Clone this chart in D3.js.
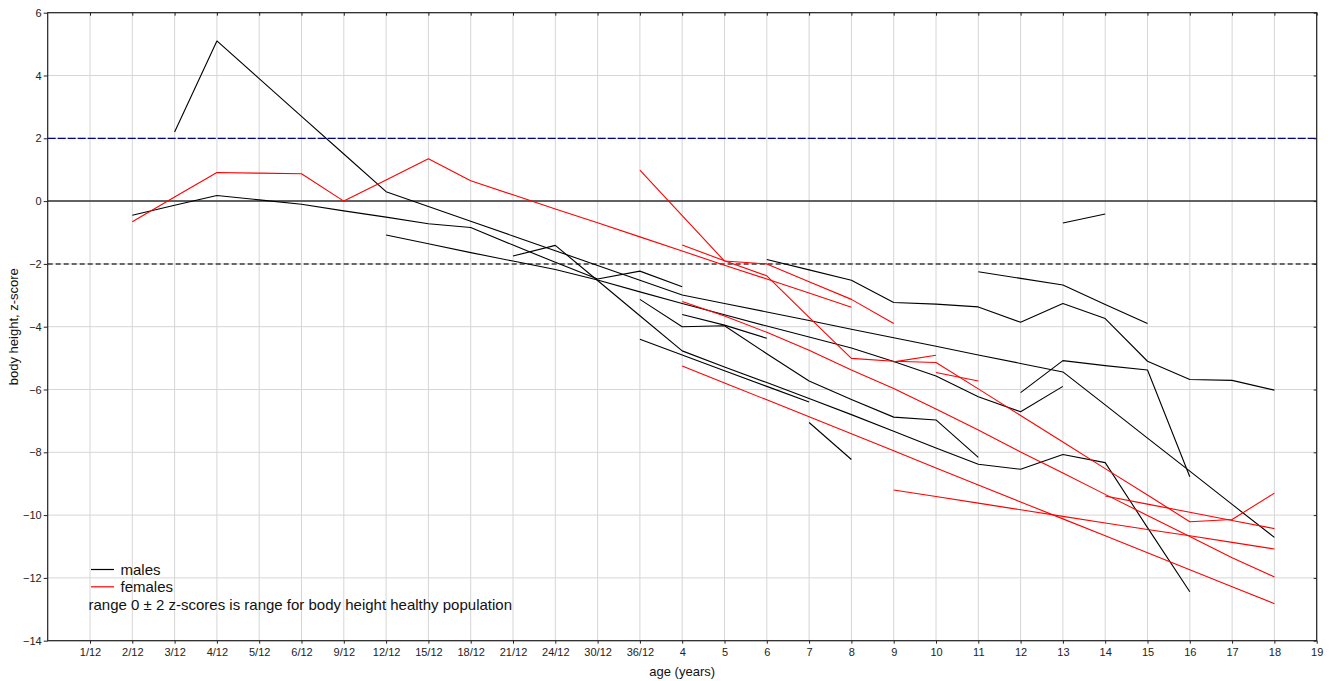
<!DOCTYPE html>
<html>
<head>
<meta charset="utf-8">
<script src="https://cdn.jsdelivr.net/npm/d3@7"></script>
<style>
  html, body { margin: 0; padding: 0; background: #fff; }
  svg { display: block; font-family: "Liberation Sans", Arial, sans-serif; }
</style>
</head>
<body>
<svg id="chart" width="1337" height="681"></svg>
<script>
// Age categories on the x axis (months as n/12, then years)
const ageLabels = ["1/12","2/12","3/12","4/12","5/12","6/12","9/12","12/12","15/12","18/12",
  "21/12","24/12","30/12","36/12","4","5","6","7","8","9","10","11","12","13","14","15","16","17","18","19"];
const zTicks = [6, 4, 2, 0, -2, -4, -6, -8, -10, -12, -14];
const referenceLevels = [2, 0, -2];

// Male patients: [age, z-score]
const m01 = [["3/12",2.2],["4/12",5.1],["5/12",3.9],["6/12",2.7],["9/12",1.5],["12/12",0.3],["15/12",-0.17],
  ["18/12",-0.64],["21/12",-1.11],["24/12",-1.58],["30/12",-2.05],["36/12",-2.52],["4",-2.99],["5",-3.26],
  ["6",-3.53],["7",-3.8],["8",-4.08],["9",-4.35],["10",-4.62],["11",-4.9],["12",-5.17],["13",-5.44],
  ["14",-6.49],["15",-7.55],["16",-8.6],["17",-9.66],["18",-10.71]];
const m02 = [["2/12",-0.45],["3/12",-0.13],["4/12",0.18],["5/12",0.04],["6/12",-0.1],["9/12",-0.31],
  ["12/12",-0.51],["15/12",-0.72],["18/12",-0.84],["21/12",-1.4],["24/12",-1.95],["30/12",-2.48],
  ["36/12",-2.23],["4",-2.73]];
const m03 = [["12/12",-1.08],["15/12",-1.36],["18/12",-1.64],["21/12",-1.91],["24/12",-2.18],["30/12",-2.51],
  ["36/12",-2.89],["4",-3.26],["5",-3.62],["6",-3.98],["7",-4.33],["8",-4.68],["9",-5.11],["10",-5.57],
  ["11",-6.23],["12",-6.71],["13",-5.9]];
const m04 = [["21/12",-1.75],["24/12",-1.41],["30/12",-2.53],["36/12",-3.65],["4",-4.77],["5",-5.28],
  ["6",-5.78],["7",-6.29],["8",-6.8],["9",-7.33],["10",-7.86],["11",-8.38],["12",-8.54],["13",-8.07],
  ["14",-8.33],["15",-10.4],["16",-12.44]];
const m05 = [["36/12",-3.13],["4",-4.0],["5",-3.97],["6",-4.86],["7",-5.73],["8",-6.32],["9",-6.88],
  ["10",-6.97],["11",-8.16]];
const m06 = [["4",-3.61],["5",-3.95],["6",-4.37]];
const m07 = [["12",-6.1],["13",-5.08],["14",-5.24],["15",-5.38],["16",-8.78]];
const m08 = [["36/12",-4.4],["4",-4.9],["5",-5.4],["6",-5.9],["7",-6.4]];
const m09 = [["7",-7.05],["8",-8.23]];
const m10 = [["13",-0.7],["14",-0.41]];
const m11 = [["11",-2.25],["12",-2.46],["13",-2.67],["14",-3.29],["15",-3.9]];
const m12 = [["6",-1.86],["7",-2.19],["8",-2.52],["9",-3.23],["10",-3.28],["11",-3.37],["12",-3.86],
  ["13",-3.26],["14",-3.74],["15",-5.1],["16",-5.68],["17",-5.71],["18",-6.02]];

// Female patients: [age, z-score]
const f01 = [["2/12",-0.66],["3/12",0.13],["4/12",0.91],["5/12",0.89],["6/12",0.87],["9/12",0.0],
  ["12/12",0.67],["15/12",1.35],["18/12",0.65],["21/12",0.2],["24/12",-0.25],["30/12",-0.69],
  ["36/12",-1.14],["4",-1.59],["5",-2.04],["6",-2.48],["7",-2.93],["8",-3.38]];
const f02 = [["36/12",0.99],["4",-0.46],["5",-1.91],["6",-2.0],["7",-2.57],["8",-3.13],["9",-3.9]];
const f03 = [["4",-1.4],["5",-1.9],["6",-2.38],["7",-3.7],["8",-5.01],["9",-5.1],["10",-5.14],["11",-5.98],
  ["12",-6.83],["13",-7.67],["14",-8.52],["15",-9.36],["16",-10.21],["17",-10.14],["18",-9.3]];
const f04 = [["4",-3.2],["5",-3.66],["6",-4.18],["7",-4.75],["8",-5.38],["9",-5.97],["10",-6.62],
  ["11",-7.29],["12",-7.99],["13",-8.66],["14",-9.34],["15",-10.01],["16",-10.68],["17",-11.36],["18",-11.97]];
const f05 = [["4",-5.25],["5",-5.79],["6",-6.33],["7",-6.87],["8",-7.41],["9",-7.95],["10",-8.5],
  ["11",-9.04],["12",-9.58],["13",-10.12],["14",-10.66],["15",-11.2],["16",-11.74],["17",-12.28],["18",-12.82]];
const f06 = [["9",-9.2],["10",-9.41],["11",-9.62],["12",-9.83],["13",-10.04],["14",-10.25],["15",-10.46],
  ["16",-10.66],["17",-10.87],["18",-11.08]];
const f07 = [["14",-9.39],["15",-9.65],["16",-9.91],["17",-10.17],["18",-10.43]];
const f08 = [["9",-5.12],["10",-4.91]];
const f09 = [["10",-5.46],["11",-5.73]];

const maleSeries = [m01, m02, m03, m04, m05, m06, m07, m08, m09, m10, m11, m12];
const femaleSeries = [f01, f02, f03, f04, f05, f06, f07, f08, f09];

const svg = d3.select("#chart");
const W = 1337, H = 681;
const margin = { top: 12.7, right: 20.3, bottom: 40.3, left: 47.7 };
const x0 = margin.left, x1 = W - margin.right, y0 = margin.top, y1 = H - margin.bottom;

// an empty slot at the left edge precedes the first age category
const x = d3.scalePoint().domain([""].concat(ageLabels)).range([x0, x1]).padding(0);
const y = d3.scaleLinear().domain([-14, 6]).range([y1, y0]);

// grid
const grid = svg.append("g").attr("stroke", "#d6d6d6").attr("stroke-width", 1);
grid.selectAll("line.gx").data(ageLabels).join("line")
  .attr("x1", d => x(d)).attr("x2", d => x(d)).attr("y1", y0).attr("y2", y1);
grid.selectAll("line.gy").data(zTicks).join("line")
  .attr("x1", x0).attr("x2", x1).attr("y1", d => y(d)).attr("y2", d => y(d));

// healthy-range reference levels
const refStyle = {
  "2": { color: "#00008b", width: 1.2, dash: "8,2" },
  "0": { color: "#333333", width: 1.5, dash: null },
  "-2": { color: "#666666", width: 2, dash: "5,3" }
};
svg.append("g").selectAll("line").data(referenceLevels).join("line")
  .attr("x1", x0).attr("x2", x1)
  .attr("y1", d => y(d)).attr("y2", d => y(d))
  .attr("stroke", d => refStyle[d].color)
  .attr("stroke-width", d => refStyle[d].width)
  .attr("stroke-dasharray", d => refStyle[d].dash);

// patient curves
const line = d3.line().x(d => x(d[0])).y(d => y(d[1]));
const plot = svg.append("g").attr("fill", "none").attr("stroke-linejoin", "round");
plot.selectAll("path.m").data(maleSeries).join("path")
  .attr("d", line).attr("stroke", "#000").attr("stroke-width", 1.1);
plot.selectAll("path.f").data(femaleSeries).join("path")
  .attr("d", line).attr("stroke", "#ff0000").attr("stroke-width", 1.1);

// axes
const tickFont = g => g.selectAll("text").attr("font-size", 11).attr("fill", "#222")
  .attr("font-family", "\"Liberation Sans\", Arial, sans-serif");

const xAxis = svg.append("g").attr("transform", `translate(0,${y1})`)
  .call(d3.axisBottom(x).tickValues(ageLabels).tickSize(3).tickPadding(5));
xAxis.select(".domain").remove();
xAxis.selectAll("line").attr("stroke", "#222");
tickFont(xAxis);

const yAxis = svg.append("g").attr("transform", `translate(${x0},0)`)
  .call(d3.axisLeft(y).tickValues(zTicks).tickSize(4).tickPadding(2));
yAxis.select(".domain").remove();
yAxis.selectAll("line").attr("stroke", "#222");
tickFont(yAxis);

// inner ticks on the top and right frame edges
const topTicks = svg.append("g").attr("transform", `translate(0,${y0})`)
  .call(d3.axisBottom(x).tickValues(ageLabels).tickSize(3).tickFormat(""));
topTicks.select(".domain").remove();
topTicks.selectAll("line").attr("stroke", "#222");
const rightTicks = svg.append("g").attr("transform", `translate(${x1},0)`)
  .call(d3.axisLeft(y).tickValues(zTicks).tickSize(3).tickFormat(""));
rightTicks.select(".domain").remove();
rightTicks.selectAll("line").attr("stroke", "#222");

// frame
svg.append("rect").attr("x", x0).attr("y", y0).attr("width", x1 - x0).attr("height", y1 - y0)
  .attr("fill", "none").attr("stroke", "#222").attr("stroke-width", 1.2);

// axis titles
svg.append("text").attr("x", (x0 + x1) / 2).attr("y", 676).attr("text-anchor", "middle")
  .attr("font-size", 13).attr("fill", "#111").text("age (years)");
svg.append("text").attr("transform", `translate(18,${(y0 + y1) / 2}) rotate(-90)`)
  .attr("text-anchor", "middle").attr("font-size", 13).attr("fill", "#111")
  .text("body height, z-score");

// legend
const legend = svg.append("g").attr("font-size", 15).attr("fill", "#111");
const legendItems = [["males", "#000"], ["females", "#ff0000"]];
legendItems.forEach((item, i) => {
  const ly = 569.5 + i * 17.3;
  legend.append("line").attr("x1", 91).attr("x2", 114).attr("y1", ly).attr("y2", ly)
    .attr("stroke", item[1]).attr("stroke-width", 1.2);
  legend.append("text").attr("x", 120.5).attr("y", ly).attr("dy", "0.35em").text(item[0]);
});
legend.append("text").attr("x", 88.5).attr("y", 604.3).attr("dy", "0.35em")
  .text("range 0 \u00b1 2 z-scores is range for body height healthy population");
</script>
</body>
</html>
